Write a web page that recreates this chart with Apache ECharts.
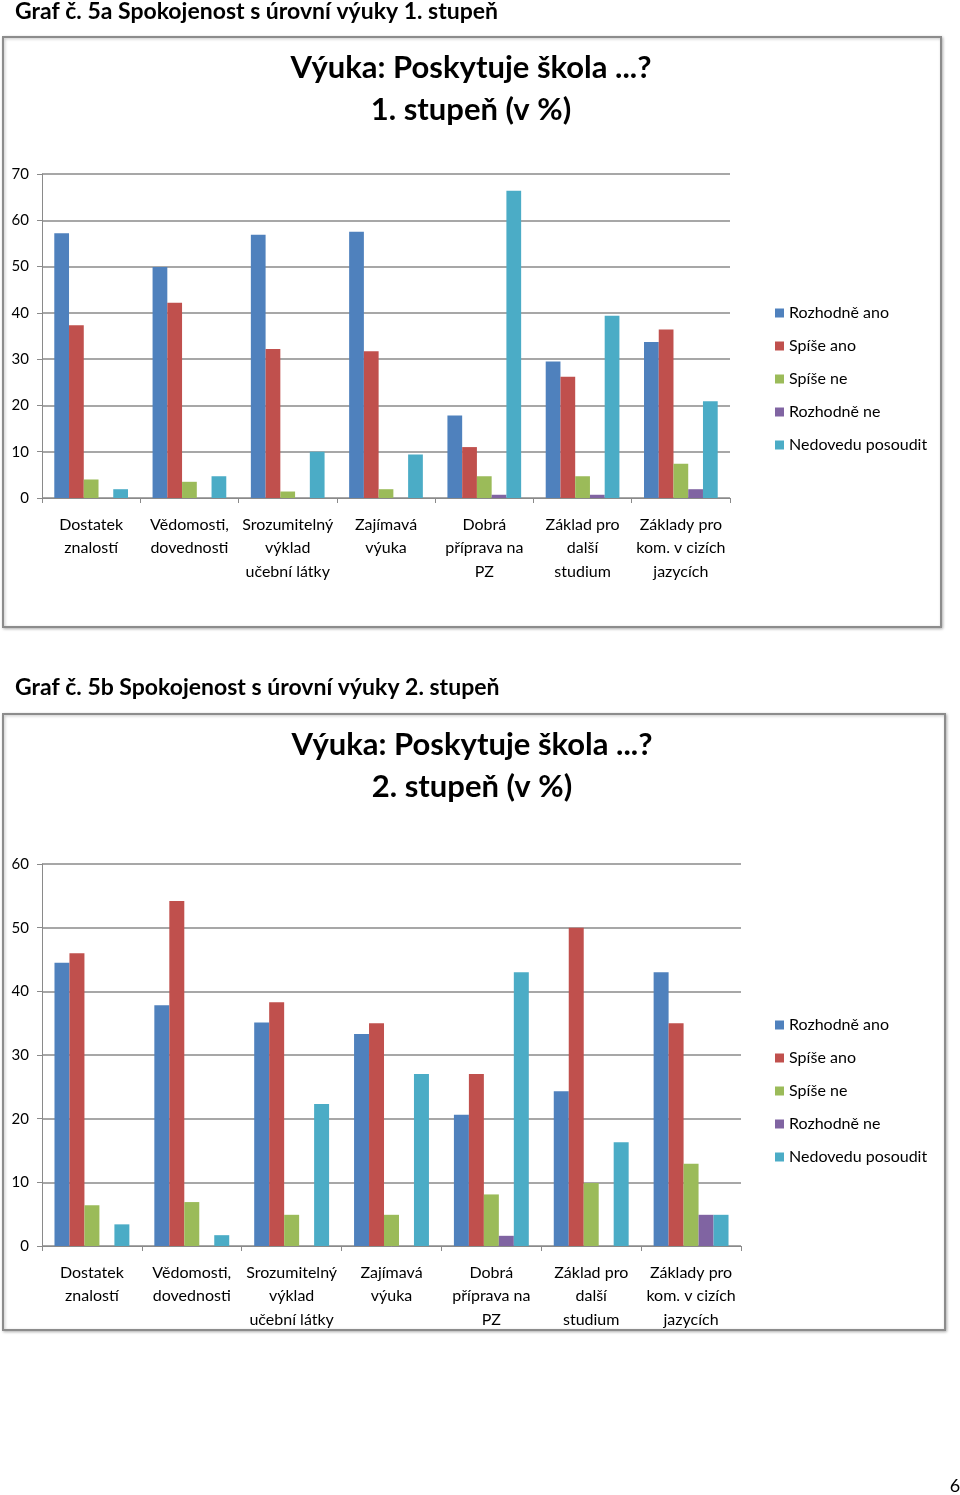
<!DOCTYPE html>
<html>
<head>
<meta charset="utf-8">
<script src="https://cdn.jsdelivr.net/npm/echarts@6/dist/echarts.min.js"></script>
<style>
html,body{margin:0;padding:0;background:#fff;}
#c{width:960px;height:1495px;}
</style>
</head>
<body>
<div id="c"></div>
<script>
const categories = [
  "Dostatek\nznalostí",
  "Vědomosti,\ndovednosti",
  "Srozumitelný\nvýklad\nučební látky",
  "Zajímavá\nvýuka",
  "Dobrá\npříprava na\nPZ",
  "Základ pro\ndalší\nstudium",
  "Základy pro\nkom. v cizích\njazycích"
];
const seriesNames = ["Rozhodně ano", "Spíše ano", "Spíše ne", "Rozhodně ne", "Nedovedu posoudit"];
const colors = ["#4F81BD", "#C0504D", "#9BBB59", "#8064A2", "#4BACC6"];

// Chart 1 – 1. stupeň (v %)
const s1RozhodneAno = [57.2, 49.9, 56.9, 57.5, 17.8, 29.5, 33.7];
const s1SpiseAno    = [37.3, 42.2, 32.2, 31.7, 11.0, 26.2, 36.4];
const s1SpiseNe     = [4.0, 3.5, 1.4, 1.9, 4.7, 4.7, 7.4];
const s1RozhodneNe  = [0, 0, 0, 0, 0.7, 0.7, 1.9];
const s1Nedovedu    = [1.9, 4.7, 10.0, 9.4, 66.4, 39.4, 20.9];

// Chart 2 – 2. stupeň (v %)
const s2RozhodneAno = [44.5, 37.8, 35.1, 33.3, 20.6, 24.3, 43.0];
const s2SpiseAno    = [46.0, 54.2, 38.3, 35.0, 27.0, 50.0, 35.0];
const s2SpiseNe     = [6.4, 6.9, 4.9, 4.9, 8.1, 9.9, 12.9];
const s2RozhodneNe  = [0, 0, 0, 0, 1.6, 0, 4.9];
const s2Nedovedu    = [3.4, 1.7, 22.3, 27.0, 43.0, 16.3, 4.9];

const yTicks1 = [0, 10, 20, 30, 40, 50, 60, 70];
const yTicks2 = [0, 10, 20, 30, 40, 50, 60];

const data1 = [s1RozhodneAno, s1SpiseAno, s1SpiseNe, s1RozhodneNe, s1Nedovedu];
const data2 = [s2RozhodneAno, s2SpiseAno, s2SpiseNe, s2RozhodneNe, s2Nedovedu];

const FONT = "Lato, 'Open Sans', sans-serif";
const gridColor = "#8a8a8a";

function xAxis(gridIndex) {
  return {
    type: "category", gridIndex, data: categories,
    axisLine: {lineStyle: {color: gridColor, width: 1}},
    axisTick: {show: true, length: 5, interval: 0, lineStyle: {color: gridColor}},
    axisLabel: {interval: 0, color: "#000", fontFamily: FONT, fontSize: 16, lineHeight: 23.5, margin: 15},
    splitLine: {show: false}
  };
}
function yAxis(gridIndex, ticks) {
  return {
    type: "value", gridIndex, min: ticks[0], max: ticks[ticks.length - 1], interval: ticks[1] - ticks[0],
    axisLine: {show: true, lineStyle: {color: gridColor, width: 1}},
    axisTick: {show: true, length: 5, lineStyle: {color: gridColor}},
    axisLabel: {color: "#000", fontFamily: FONT, fontSize: 15, margin: 13},
    splitLine: {show: true, lineStyle: {color: gridColor, width: 1.5}}
  };
}
const series = [];
[data1, data2].forEach((d, gi) => {
  d.forEach((vals, i) => {
    series.push({
      type: "bar", name: seriesNames[i], xAxisIndex: gi, yAxisIndex: gi,
      data: vals, itemStyle: {color: colors[i]},
      barGap: "0%", barCategoryGap: "25%",
      emphasis: {disabled: true}
    });
  });
});
function legend(top) {
  return {
    orient: "vertical", left: 770, top: top, data: seriesNames,
    icon: "rect", itemWidth: 9, itemHeight: 9, itemGap: 15,
    textStyle: {color: "#000", fontFamily: FONT, fontSize: 16, lineHeight: 18},
    selectedMode: false
  };
}
function txt(text, x, y, size, align, weight) {
  return {type: "text", x, y, style: {text, fill: "#000", font: (weight || "bold") + " " + size + "px " + FONT, textAlign: align, textVerticalAlign: "middle"}, silent: true};
}
function frame(x, y, w, h) {
  return {type: "rect", shape: {x, y, width: w, height: h}, style: {fill: "#fff", stroke: "#8c8c8c", lineWidth: 2, shadowColor: "rgba(0,0,0,0.25)", shadowBlur: 3, shadowOffsetX: 1, shadowOffsetY: 1}, z: -10, silent: true};
}

const chart = echarts.init(document.getElementById("c"), null, {renderer: "canvas"});
chart.setOption({
  animation: false,
  backgroundColor: "#fff",
  grid: [
    {left: 42, top: 174, width: 688, height: 324},
    {left: 42, top: 864, width: 699, height: 382}
  ],
  xAxis: [xAxis(0), xAxis(1)],
  yAxis: [yAxis(0, yTicks1), yAxis(1, yTicks2)],
  legend: [legend(299), legend(1011)],
  series,
  graphic: [
    frame(3, 37, 938, 590),
    frame(3, 714, 942, 616),
    txt("Graf č. 5a Spokojenost s úrovní výuky 1. stupeň", 15, 12, 23, "left"),
    txt("Výuka: Poskytuje škola ...?", 471, 68, 31, "center"),
    txt("1. stupeň (v %)", 471, 110, 31, "center"),
    txt("Graf č. 5b Spokojenost s úrovní výuky 2. stupeň", 15, 688, 23, "left"),
    txt("Výuka: Poskytuje škola ...?", 472, 745, 31, "center"),
    txt("2. stupeň (v %)", 472, 787, 31, "center"),
    txt("6", 955, 1486, 18, "center", "normal")
  ]
});
</script>
</body>
</html>
